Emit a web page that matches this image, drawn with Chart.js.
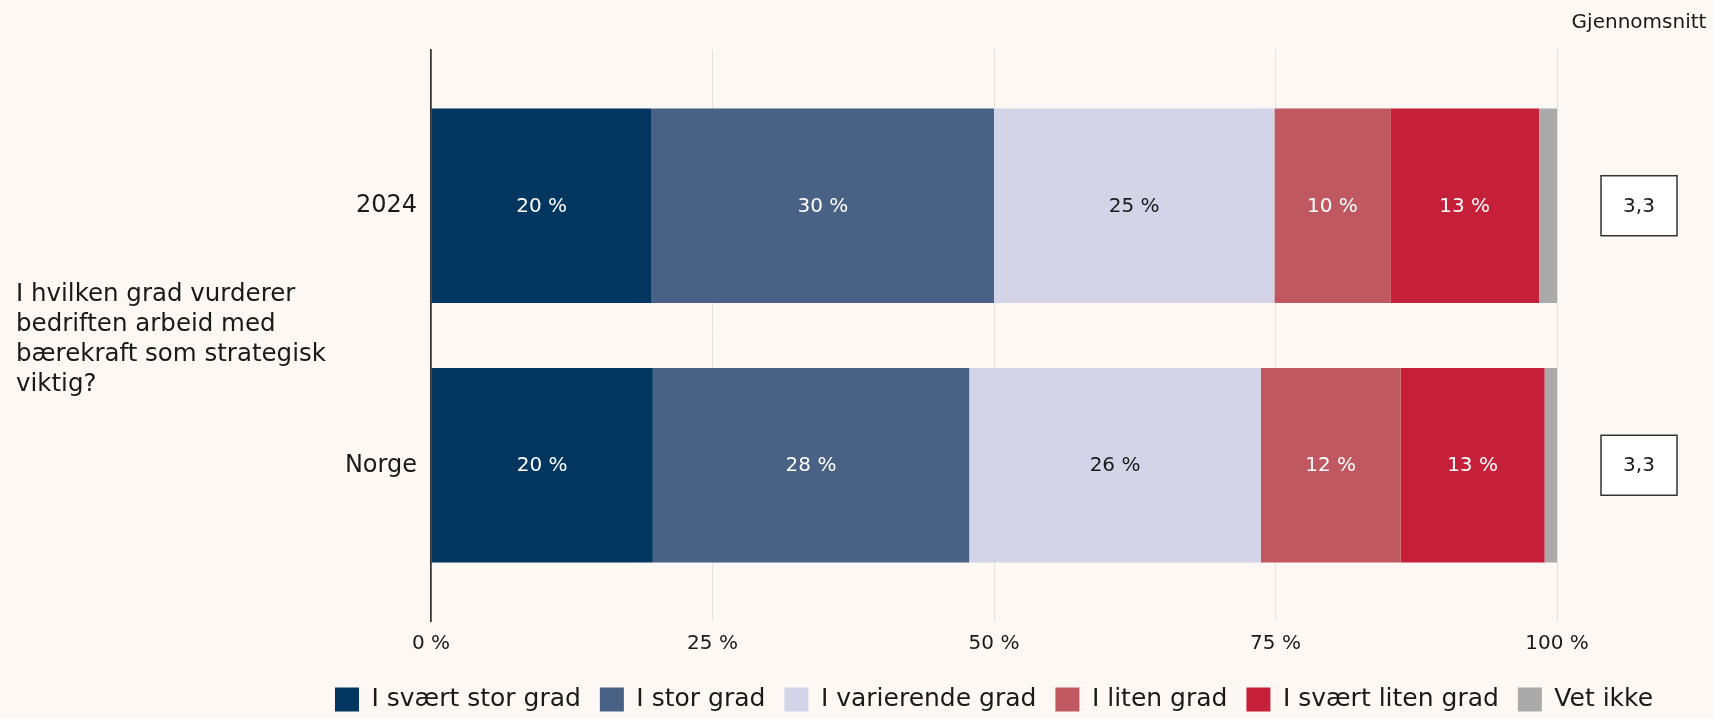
<!DOCTYPE html>
<html lang="no">
<head>
<meta charset="utf-8">
<title>Bærekraft som strategisk viktig</title>
<script src="https://cdn.jsdelivr.net/npm/chart.js@4.4.1/dist/chart.umd.min.js"></script>
<style>
  html, body { margin: 0; padding: 0; background: #fdf8f4; }
  #wrap { width: 1713px; height: 718px; position: relative; }
</style>
</head>
<body>
<div id="wrap"><canvas id="chart"></canvas></div>
<script>
// Data
const categories = ['2024', 'Norge'];
const seriesNames = ['I svært stor grad', 'I stor grad', 'I varierende grad', 'I liten grad', 'I svært liten grad', 'Vet ikke'];
const svaertStorGrad = [19.6, 19.7];
const storGrad = [30.4, 28.1];
const varierendeGrad = [24.9, 25.9];
const litenGrad = [10.3, 12.4];
const svaertLitenGrad = [13.2, 12.8];
const vetIkke = [1.6, 1.1];
const averages = [3.3, 3.3];
const xTicks = [0, 25, 50, 75, 100];
const question = ['I hvilken grad vurderer', 'bedriften arbeid med', 'bærekraft som strategisk', 'viktig?'];

const seriesValues = [svaertStorGrad, storGrad, varierendeGrad, litenGrad, svaertLitenGrad, vetIkke];
const seriesColors = ['#00365f', '#486184', '#d4d4e9', '#bf5861', '#c61f3a', '#aaaaaa'];
const labelColors = ['#ffffff', '#ffffff', '#1a1a1a', '#ffffff', '#ffffff', null];

const textColor = '#1a1a1a';
const fontFamily = "'DejaVu Sans', sans-serif";

Chart.defaults.font.family = fontFamily;
Chart.defaults.color = textColor;

// Fill the page colour behind everything
const background = {
    id: 'background',
    beforeDraw(chart) {
        const ctx = chart.ctx;
        ctx.save();
        ctx.fillStyle = '#fdf8f4';
        ctx.fillRect(0, 0, chart.width, chart.height);
        ctx.restore();
    }
};

// Legend is centred under the plot panel, not the whole canvas
const legendShift = {
    id: 'legendShift',
    afterLayout(chart) {
        const legend = chart.legend;
        const area = chart.chartArea;
        const shift = (area.left + area.right) / 2 - (legend.left + legend.right) / 2;
        legend.left += shift;
        legend.right += shift;
    }
};

// Percent labels in the middle of each segment
const barLabels = {
    id: 'barLabels',
    afterDatasetsDraw(chart) {
        const ctx = chart.ctx;
        ctx.save();
        ctx.font = '20px ' + fontFamily;
        ctx.textAlign = 'center';
        ctx.textBaseline = 'middle';
        chart.data.datasets.forEach(function(ds, d) {
            if (!labelColors[d]) return;
            ctx.fillStyle = labelColors[d];
            chart.getDatasetMeta(d).data.forEach(function(bar, i) {
                const c = bar.getCenterPoint();
                ctx.fillText(Math.round(ds.data[i].x) + ' %', c.x, c.y + 1);
            });
        });
        ctx.restore();
    }
};

// Question on the left, average boxes on the right
const sidePanels = {
    id: 'sidePanels',
    afterDraw(chart) {
        const ctx = chart.ctx;
        const area = chart.chartArea;
        const yScale = chart.scales.y;
        ctx.save();

        const mid = (area.top + area.bottom) / 2;
        ctx.font = '24.5px ' + fontFamily;
        ctx.fillStyle = textColor;
        ctx.textAlign = 'left';
        ctx.textBaseline = 'alphabetic';
        question.forEach(function(line, i) {
            ctx.fillText(line, 16, mid + (i - 1.5) * 30 + 10);
        });

        const cx = area.right + 82;
        ctx.font = '20px ' + fontFamily;
        ctx.textAlign = 'center';
        ctx.fillText('Gjennomsnitt', cx, 28);

        averages.forEach(function(avg, i) {
            const cy = yScale.getPixelForValue(i + 1);
            ctx.fillStyle = '#ffffff';
            ctx.fillRect(cx - 38, cy - 30, 76, 60);
            ctx.strokeStyle = '#333333';
            ctx.lineWidth = 1.5;
            ctx.strokeRect(cx - 38, cy - 30, 76, 60);
            ctx.fillStyle = textColor;
            ctx.textBaseline = 'middle';
            ctx.fillText(avg.toFixed(1).replace('.', ','), cx, cy + 1);
        });
        ctx.restore();
    }
};

const datasets = seriesNames.map(function(name, d) {
    return {
        label: name,
        data: seriesValues[d].map(function(v, i) { return { x: v, y: i + 1 }; }),
        backgroundColor: seriesColors[d],
        borderWidth: 0,
        barPercentage: 0.75,
        categoryPercentage: 1
    };
});

new Chart(document.getElementById('chart'), {
    type: 'bar',
    data: { datasets: datasets },
    options: {
        indexAxis: 'y',
        responsive: true,
        maintainAspectRatio: false,
        animation: false,
        layout: { padding: { top: 50, right: 156, bottom: -4, left: 0 } },
        scales: {
            x: {
                type: 'linear',
                min: 0,
                max: 100,
                stacked: true,
                afterBuildTicks: function(scale) {
                    scale.ticks = xTicks.map(function(v) { return { value: v }; });
                },
                ticks: {
                    callback: function(v) { return v + ' %'; },
                    font: { size: 20 },
                    color: textColor,
                    padding: 11,
                    maxRotation: 0
                },
                grid: { color: '#e4e0dc', lineWidth: 1, drawTicks: false },
                border: { display: false },
                afterFit: function(scale) { scale.height = 47; }
            },
            y: {
                type: 'linear',
                reverse: true,
                offset: false,
                min: 0.4,
                max: 2.6,
                stacked: true,
                afterBuildTicks: function(scale) {
                    scale.ticks = categories.map(function(c, i) { return { value: i + 1 }; });
                },
                ticks: {
                    callback: function(v) { return categories[v - 1]; },
                    font: { size: 24 },
                    color: textColor,
                    padding: 14
                },
                grid: { display: false, drawTicks: false, offset: false },
                border: { display: true, color: '#333333', width: 1.7 },
                afterFit: function(scale) { scale.width = 431; }
            }
        },
        plugins: {
            tooltip: { enabled: false },
            legend: {
                position: 'bottom',
                labels: {
                    boxWidth: 24,
                    boxHeight: 24,
                    padding: 19,
                    color: textColor,
                    font: { size: 25 }
                }
            }
        }
    },
    plugins: [background, legendShift, barLabels, sidePanels]
});
</script>
</body>
</html>
